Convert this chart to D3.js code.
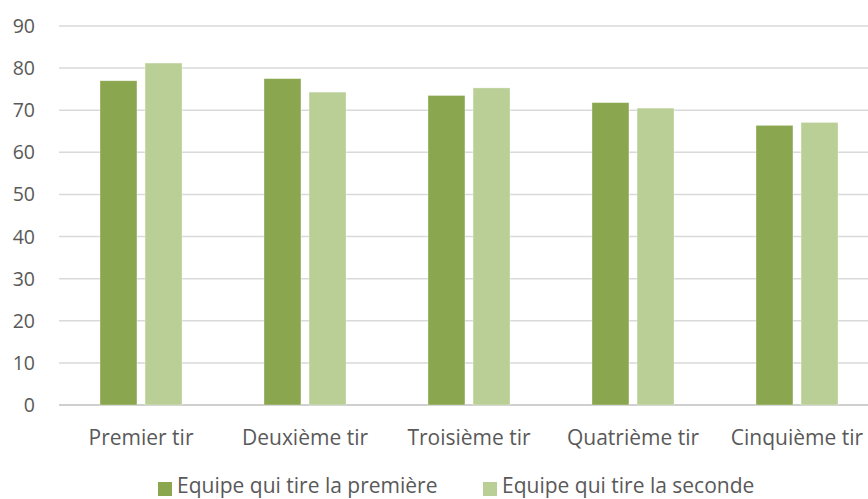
<!DOCTYPE html>
<html>
<head>
<meta charset="utf-8">
<script src="https://cdn.jsdelivr.net/npm/d3@7"></script>
<style>
  body { margin: 0; background: #fff; }
  svg { display: block; font-family: "Open Sans", "Noto Sans", sans-serif; }
</style>
</head>
<body>
<div class="chart"></div>
<script>
const categories = ['Premier tir', 'Deuxième tir', 'Troisième tir', 'Quatrième tir', 'Cinquième tir'];
const seriesNames = ['Equipe qui tire la première', 'Equipe qui tire la seconde'];
const premiere = [77.0, 77.5, 73.5, 71.8, 66.4];
const seconde = [81.2, 74.3, 75.3, 70.5, 67.1];
const yTicks = [0, 10, 20, 30, 40, 50, 60, 70, 80, 90];
const colors = ['#8aa64f', '#b9cf96'];

const width = 868;
const height = 499;
const margin = {top: 26, left: 59, bottom: 94};

const svg = d3.select('.chart')
  .append('svg')
  .attr('width', width)
  .attr('height', height);

const x = d3.scaleBand()
  .domain(categories)
  .range([margin.left, 879]);

// bars inside a category: 82px group centred in the band
const x1 = d3.scaleBand()
  .domain([0, 1])
  .range([-41, 41])
  .paddingInner(0.18);

const y = d3.scaleLinear()
  .domain([0, 90])
  .range([height - margin.bottom, margin.top]);

// grid
svg.selectAll('line.grid')
  .data(yTicks)
  .enter()
  .append('line')
  .attr('class', 'grid')
  .attr('x1', margin.left)
  .attr('x2', width)
  .attr('y1', d => y(d))
  .attr('y2', d => y(d))
  .attr('stroke', d => d === 0 ? '#bfbfbf' : '#d9d9d9')
  .attr('stroke-width', 1.5);

// y labels
svg.selectAll('text.ylab')
  .data(yTicks)
  .enter()
  .append('text')
  .attr('class', 'ylab')
  .text(d => d)
  .attr('x', 35)
  .attr('y', d => y(d))
  .attr('dy', '0.36em')
  .attr('text-anchor', 'end')
  .attr('font-size', 19.5)
  .attr('fill', '#595959');

const rows = categories.map((c, i) => ({cat: c, vals: [premiere[i], seconde[i]]}));

const groups = svg.selectAll('g.cat')
  .data(rows)
  .enter()
  .append('g')
  .attr('class', 'cat')
  .attr('transform', d => `translate(${x(d.cat) + x.bandwidth() / 2},0)`);

groups.selectAll('rect')
  .data(d => d.vals)
  .enter()
  .append('rect')
  .attr('x', (d, i) => x1(i))
  .attr('width', x1.bandwidth())
  .attr('y', d => y(d))
  .attr('height', d => y(0) - y(d))
  .attr('fill', (d, i) => colors[i])
  .attr('stroke', '#ffffff')
  .attr('stroke-opacity', 0.4)
  .attr('stroke-width', 0.8);

// x labels
svg.selectAll('text.xlab')
  .data(categories)
  .enter()
  .append('text')
  .attr('class', 'xlab')
  .text(d => d)
  .attr('x', d => x(d) + x.bandwidth() / 2)
  .attr('y', 445)
  .attr('text-anchor', 'middle')
  .attr('font-size', 21)
  .attr('fill', '#595959');

// legend
const legendX = [158, 483];
const legend = svg.selectAll('g.legend')
  .data(seriesNames)
  .enter()
  .append('g')
  .attr('class', 'legend')
  .attr('transform', (d, i) => `translate(${legendX[i]},0)`);

legend.append('rect')
  .attr('x', 0)
  .attr('y', 482)
  .attr('width', 14)
  .attr('height', 14)
  .attr('fill', (d, i) => colors[i]);

legend.append('text')
  .text(d => d)
  .attr('x', 19)
  .attr('y', 493)
  .attr('font-size', 21)
  .attr('fill', '#595959');
</script>
</body>
</html>
